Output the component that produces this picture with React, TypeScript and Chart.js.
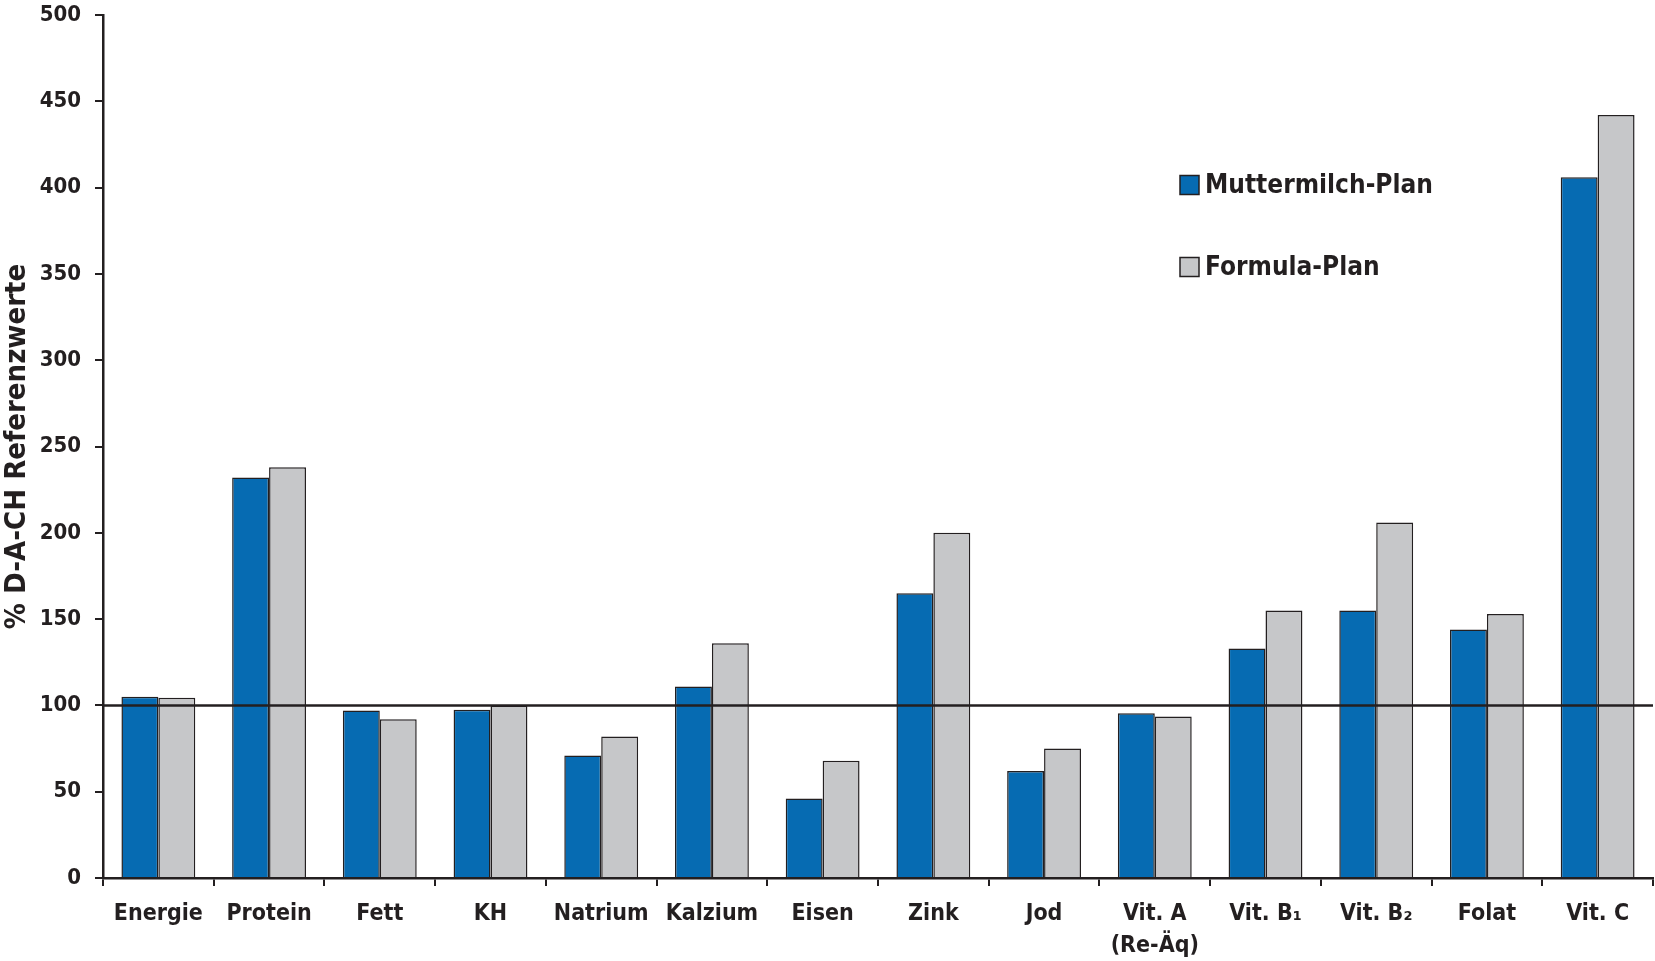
import React, { useEffect, useRef } from "react";
import { Chart, registerables } from "chart.js";

Chart.register(...registerables);

const categories: (string | string[])[] = [
  "Energie",
  "Protein",
  "Fett",
  "KH",
  "Natrium",
  "Kalzium",
  "Eisen",
  "Zink",
  "Jod",
  ["Vit. A", "(Re-Äq)"],
  "Vit. B₁",
  "Vit. B₂",
  "Folat",
  "Vit. C",
];

const seriesNames = ["Muttermilch-Plan", "Formula-Plan"];
const muttermilch = [105, 232, 97, 97.5, 71, 111, 46, 165, 62, 95.5, 133, 155, 144, 406];
const formula = [104.5, 238, 92, 100, 82, 136, 68, 200, 75, 93.5, 155, 206, 153, 442];
const yTicks = [0, 50, 100, 150, 200, 250, 300, 350, 400, 450, 500];
const referenceValue = 100;
const yTitle = "% D-A-CH Referenzwerte";

const FONT = '"Liberation Sans Narrow", "Arial Narrow", "DejaVu Sans Condensed", sans-serif';
const DARK = "#231f20";
const BLUE = "#066bb2";
const GRAY = "#c6c7c9";

const refLinePlugin = {
  id: "refLine",
  afterDatasetsDraw(chart: any) {
    const { ctx, chartArea, scales } = chart;
    const y = scales.y.getPixelForValue(referenceValue);
    ctx.save();
    ctx.strokeStyle = DARK;
    ctx.lineWidth = 2.5;
    ctx.beginPath();
    ctx.moveTo(chartArea.left, y);
    ctx.lineTo(chartArea.right, y);
    ctx.stroke();
    ctx.restore();
  },
};

const legendPlugin = {
  id: "customLegend",
  afterDraw(chart: any) {
    const { ctx } = chart;
    const boxX = 1180;
    const textX = 1205;
    const ys = [185, 267];
    ctx.save();
    chart.data.datasets.forEach((ds: any, i: number) => {
      const cy = ys[i];
      ctx.fillStyle = ds.backgroundColor;
      ctx.fillRect(boxX, cy - 9.5, 19, 19);
      ctx.strokeStyle = DARK;
      ctx.lineWidth = 1.5;
      ctx.strokeRect(boxX, cy - 9.5, 19, 19);
      ctx.fillStyle = DARK;
      ctx.font = `bold 26px ${FONT}`;
      ctx.textBaseline = "middle";
      ctx.textAlign = "left";
      ctx.fillText(ds.label, textX, cy + 1);
    });
    ctx.restore();
  },
};

export default function App() {
  const canvasRef = useRef<HTMLCanvasElement | null>(null);

  useEffect(() => {
    document.body.style.margin = "0";
    const canvas = canvasRef.current;
    if (!canvas) return;
    const chart = new Chart(canvas, {
      type: "bar",
      data: {
        labels: categories,
        datasets: [
          {
            label: seriesNames[0],
            data: muttermilch,
            backgroundColor: BLUE,
            borderColor: DARK,
            borderWidth: 1.5,
            categoryPercentage: 0.667,
            barPercentage: 1.0,
          },
          {
            label: seriesNames[1],
            data: formula,
            backgroundColor: GRAY,
            borderColor: DARK,
            borderWidth: 1.5,
            categoryPercentage: 0.667,
            barPercentage: 1.0,
          },
        ],
      },
      options: {
        animation: false,
        responsive: false,
        maintainAspectRatio: false,
        layout: { padding: { top: 15, right: 2, left: 0, bottom: 0 } },
        plugins: {
          legend: { display: false },
          tooltip: { enabled: false },
        },
        scales: {
          x: {
            grid: {
              display: true,
              offset: true,
              drawOnChartArea: false,
              drawTicks: true,
              tickLength: 8,
              color: DARK,
              lineWidth: 2,
            },
            border: { display: true, color: DARK, width: 2.5 },
            ticks: {
              color: DARK,
              padding: 13,
              maxRotation: 0,
              autoSkip: false,
              font: { family: FONT, size: 23, weight: "bold", lineHeight: 1.35 },
            },
            afterFit: (s: any) => {
              s.height = 83;
              s.paddingLeft = 0;
              s.paddingRight = 0;
            },
          },
          y: {
            min: 0,
            max: 500,
            afterBuildTicks: (s: any) => {
              s.ticks = yTicks.map((v) => ({ value: v }));
            },
            grid: {
              display: true,
              drawOnChartArea: false,
              drawTicks: true,
              tickLength: 8,
              color: DARK,
              lineWidth: 2,
            },
            border: { display: true, color: DARK, width: 2.5 },
            ticks: {
              color: DARK,
              padding: 14,
              font: { family: FONT, size: 22, weight: "bold" },
            },
            title: {
              display: true,
              text: yTitle,
              color: DARK,
              padding: { top: 2, bottom: 0 },
              font: { family: FONT, size: 29, weight: "bold", lineHeight: 1.1 },
            },
            afterFit: (s: any) => {
              s.width = 103;
              s.paddingTop = 0;
              s.paddingBottom = 0;
            },
          },
        },
      },
      plugins: [refLinePlugin, legendPlugin],
    });
    return () => chart.destroy();
  }, []);

  return (
    <div style={{ width: 1655, height: 961, background: "#fff" }}>
      <canvas ref={canvasRef} width={1655} height={961} style={{ display: "block" }} />
    </div>
  );
}
